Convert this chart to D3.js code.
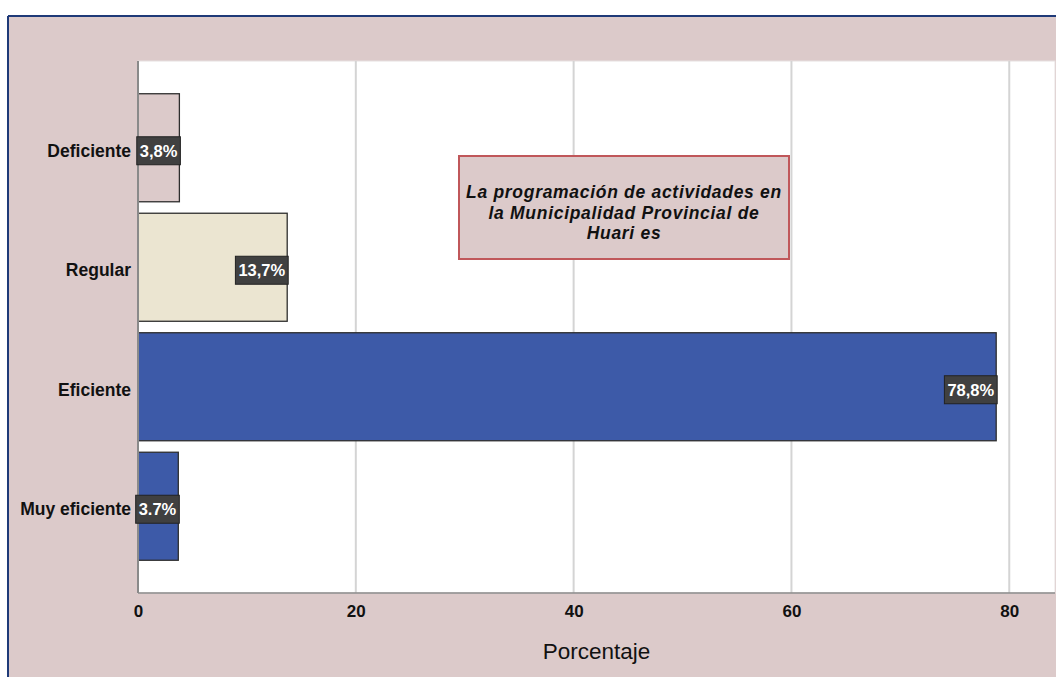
<!DOCTYPE html>
<html><head><meta charset="utf-8">
<script src="https://cdn.jsdelivr.net/npm/d3@7"></script>
<style>html,body{margin:0;padding:0;background:#fff;}svg{display:block;}</style>
</head><body>
<svg id="c" width="1056" height="677"></svg>
<script>
const categories = ["Deficiente", "Regular", "Eficiente", "Muy eficiente"];
const values = [3.8, 13.7, 78.8, 3.7];
const valueLabels = ["3,8%", "13,7%", "78,8%", "3.7%"];
const barColors = ["#dccaca", "#ebe5d1", "#3d5aa8", "#3d5aa8"];
const xTicks = [0, 20, 40, 60, 80];
const xMax = 84.2;
const titleLines = ["La programación de actividades en", "la Municipalidad Provincial de", "Huari es"];
const axisTitle = "Porcentaje";

const svg = d3.select("#c");
const W = 1056, H = 677;
const F = "'Liberation Sans', Arial, sans-serif";
const plot = {l: 138, r: 1055, t: 61, b: 593};

// outer background frame
svg.append("rect").attr("x", 8).attr("y", 16).attr("width", W).attr("height", H).attr("fill", "#dccaca");
svg.append("line").attr("x1", 8).attr("x2", W).attr("y1", 16).attr("y2", 16).attr("stroke", "#1f3a78").attr("stroke-width", 2);
svg.append("line").attr("x1", 8).attr("x2", 8).attr("y1", 16).attr("y2", H).attr("stroke", "#1f3a78").attr("stroke-width", 2);

// plot area
svg.append("rect").attr("x", plot.l).attr("y", plot.t).attr("width", plot.r - plot.l).attr("height", plot.b - plot.t)
  .attr("fill", "#ffffff").attr("stroke", "#e6e0e0").attr("stroke-width", 1);

const x = d3.scaleLinear().domain([0, xMax]).range([plot.l, plot.r]);
const y = d3.scaleBand().domain(categories).range([plot.t, plot.b]).paddingInner(0.096).paddingOuter(0.274);

// gridlines
svg.append("g").selectAll("line").data(xTicks.filter(d => d > 0)).join("line")
  .attr("x1", d => x(d)).attr("x2", d => x(d)).attr("y1", plot.t).attr("y2", plot.b)
  .attr("stroke", "#d4d4d4").attr("stroke-width", 2);

// x axis
const xAxis = svg.append("g").attr("transform", `translate(0,${plot.b})`)
  .call(d3.axisBottom(x).tickValues(xTicks).tickSize(0).tickPadding(0).tickFormat(d3.format("d")));
xAxis.select(".domain").remove();
xAxis.selectAll("text").attr("font-family", F).attr("font-size", 17).attr("font-weight", "bold")
  .attr("fill", "#111").attr("dy", null).attr("y", 24);
svg.append("line").attr("x1", plot.l).attr("x2", plot.r).attr("y1", plot.b).attr("y2", plot.b)
  .attr("stroke", "#8a8a8a").attr("stroke-width", 1.5);

// bars
svg.append("g").selectAll("rect").data(categories).join("rect")
  .attr("x", x(0)).attr("y", d => y(d))
  .attr("width", (d, i) => x(values[i]) - x(0)).attr("height", y.bandwidth())
  .attr("fill", (d, i) => barColors[i]).attr("stroke", "#2e2e2e").attr("stroke-width", 1.3);

// y axis line
svg.append("line").attr("x1", plot.l).attr("x2", plot.l).attr("y1", plot.t).attr("y2", plot.b)
  .attr("stroke", "#8a8a8a").attr("stroke-width", 2);

// y axis labels
const yAxis = svg.append("g").attr("transform", `translate(${plot.l},0)`)
  .call(d3.axisLeft(y).tickSize(0).tickPadding(7));
yAxis.select(".domain").remove();
yAxis.selectAll("text").attr("font-family", F).attr("font-size", 17.5).attr("font-weight", "bold")
  .attr("fill", "#111").attr("dy", "0.35em").attr("y", 3);

// value labels
const lab = svg.append("g").selectAll("g").data(categories).join("g");
lab.each(function(d, i) {
  const g = d3.select(this);
  const cy = y(d) + y.bandwidth() / 2 + 3;
  const t = g.append("text").text(valueLabels[i]).attr("font-family", F).attr("font-size", 16.5)
    .attr("font-weight", "bold").attr("fill", "#ffffff").attr("text-anchor", "end")
    .attr("x", x(values[i]) - 2).attr("y", cy).attr("dy", "0.36em");
  const w = t.node().getComputedTextLength();
  g.insert("rect", "text").attr("x", x(values[i]) - w - 5).attr("y", cy - 14)
    .attr("width", w + 6).attr("height", 28).attr("fill", "#404040").attr("stroke", "#222").attr("stroke-width", 1);
});

// title box
svg.append("rect").attr("x", 459).attr("y", 156).attr("width", 330).attr("height", 103)
  .attr("fill", "#dccaca").attr("stroke", "#c0575a").attr("stroke-width", 2);
svg.append("g").selectAll("text").data(titleLines).join("text")
  .attr("x", 624).attr("y", (d, i) => 198 + i * 20.5).attr("text-anchor", "middle")
  .attr("font-family", F).attr("font-size", 17.5).attr("font-weight", "bold").attr("font-style", "italic")
  .attr("letter-spacing", 0.7).attr("fill", "#111").text(d => d);

// axis title
svg.append("text").attr("x", (plot.l + plot.r) / 2).attr("y", 659).attr("text-anchor", "middle")
  .attr("font-family", F).attr("font-size", 22.5).attr("fill", "#111").text(axisTitle);
</script>
</body></html>
